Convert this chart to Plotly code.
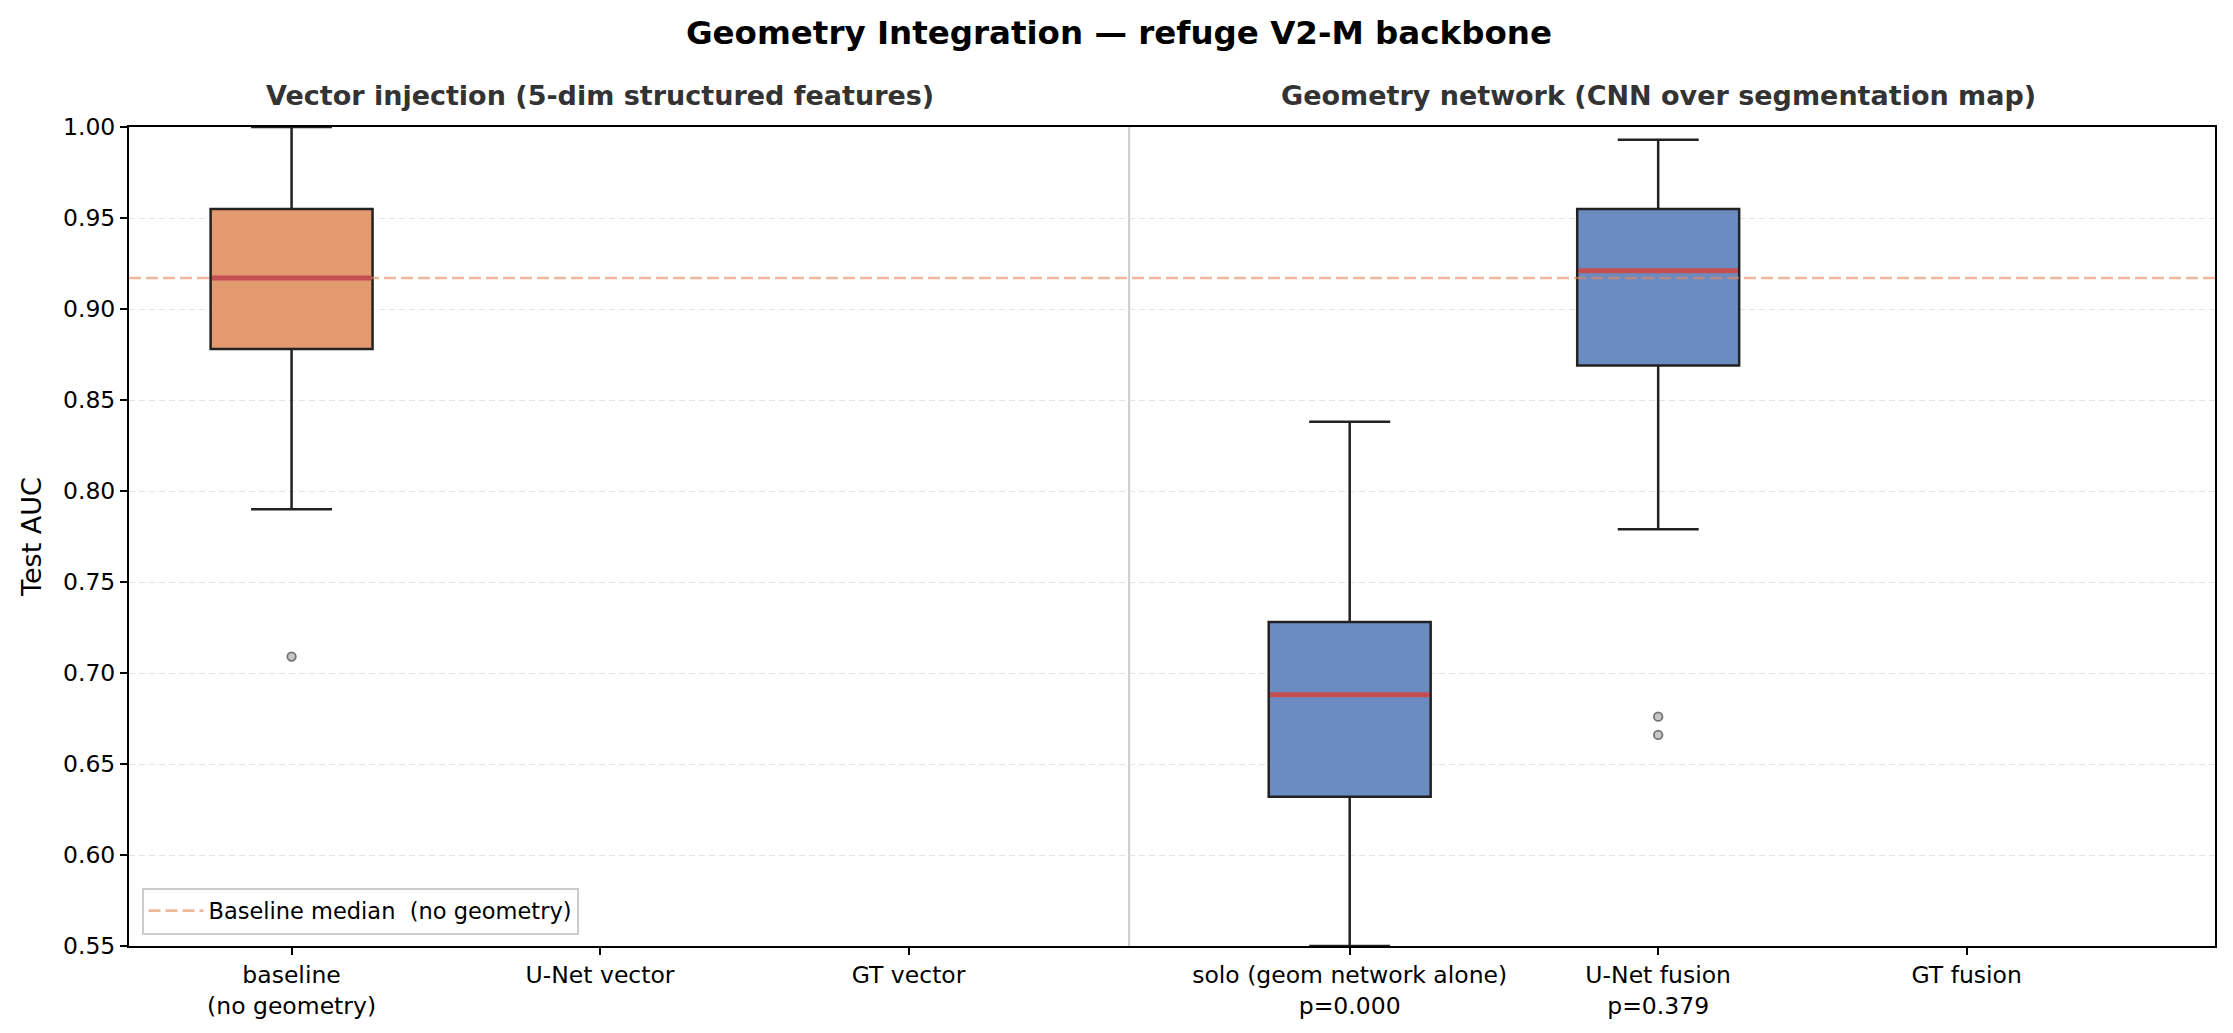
import plotly.graph_objects as go

# categories and x positions (two panels side by side)
labels = ["baseline<br>(no geometry)", "U-Net vector", "GT vector",
          "solo (geom network alone)<br>p=0.000", "U-Net fusion<br>p=0.379", "GT fusion"]
positions = [0, 1, 2, 3.43, 4.43, 5.43]

# box statistics (only three runs have data)
box_pos = [0, 3.43, 4.43]
box_q1 = [0.878, 0.632, 0.869]
box_median = [0.917, 0.688, 0.921]
box_q3 = [0.955, 0.728, 0.955]
box_low = [0.790, 0.550, 0.779]
box_high = [1.000, 0.838, 0.993]
box_colors = ["#E39A6F", "#6B8CC1", "#6B8CC1"]

# outliers
out_x = [0, 4.43, 4.43]
out_y = [0.709, 0.676, 0.666]

baseline_median = 0.917
x_range = [-0.527, 6.235]
separator_x = 2.715
box_w = 0.525

panel_titles = ["Vector injection (5-dim structured features)",
                "Geometry network (CNN over segmentation map)"]
panel_centers = [1, 4.43]

fig = go.Figure()

for i in range(len(box_pos)):
    fig.add_trace(go.Box(x=[box_pos[i]], q1=[box_q1[i]], median=[box_median[i]],
                         q3=[box_q3[i]], lowerfence=[box_low[i]], upperfence=[box_high[i]],
                         width=box_w, whiskerwidth=0.5, fillcolor=box_colors[i],
                         line=dict(color="#222222", width=2.5),
                         boxpoints=False, showlegend=False, hoverinfo="skip"))

# baseline median reference line (over the boxes, under the medians)
fig.add_trace(go.Scatter(x=x_range, y=[baseline_median, baseline_median], mode="lines",
                         line=dict(color="rgba(228,135,90,0.6)", width=2.6, dash="12px,5px"),
                         name="Baseline median  (no geometry)"))

# red median lines
for i in range(len(box_pos)):
    fig.add_trace(go.Scatter(x=[box_pos[i] - box_w / 2 + 0.004, box_pos[i] + box_w / 2 - 0.004],
                             y=[box_median[i], box_median[i]], mode="lines",
                             line=dict(color="#C44E52", width=5),
                             showlegend=False, hoverinfo="skip"))

fig.add_trace(go.Scatter(x=out_x, y=out_y, mode="markers",
                         marker=dict(symbol="circle", size=8.5, color="rgba(175,175,175,0.7)",
                                     line=dict(color="rgb(115,115,115)", width=1.8)),
                         showlegend=False, hoverinfo="skip"))

fig.add_shape(type="line", xref="x", yref="paper", x0=separator_x, x1=separator_x,
              y0=0, y1=1, line=dict(color="#CCCCCC", width=2), layer="below")

for t, c in zip(panel_titles, panel_centers):
    fig.add_annotation(text="<b>" + t + "</b>", x=c, xref="x", y=1.039, yref="paper",
                       yanchor="middle", showarrow=False,
                       font=dict(size=27, color="#333333"))

fig.update_layout(
    width=2233, height=1033,
    margin=dict(l=121, r=26, t=119, b=95),
    paper_bgcolor="white", plot_bgcolor="white",
    font=dict(family="DejaVu Sans", color="black", size=23),
    title=dict(text="<b>Geometry Integration — refuge V2-M backbone</b>",
               x=0.4975, xanchor="center", y=0.976, yanchor="middle",
               font=dict(size=32.5, color="black")),
    legend=dict(x=0.006, y=0.014, xanchor="left", yanchor="bottom",
                bgcolor="rgba(255,255,255,0.85)", bordercolor="#CCCCCC", borderwidth=2,
                font=dict(size=22.5), itemwidth=55),
    boxmode="overlay",
)

fig.update_xaxes(range=x_range, tickvals=positions, ticktext=labels,
                 showgrid=False, zeroline=False, showline=True, linecolor="black",
                 linewidth=2, mirror=True, ticks="outside", ticklen=7,
                 tickcolor="black", tickwidth=1.5, tickfont=dict(size=23.5))
fig.update_yaxes(range=[0.55, 1.0], dtick=0.05, tickformat=".2f",
                 showgrid=True, gridcolor="#E3E3E3", griddash="6px,4px", gridwidth=1.3,
                 zeroline=False, showline=True, linecolor="black", linewidth=2,
                 mirror=True, ticks="outside", ticklen=7, tickcolor="black",
                 tickwidth=1.5, tickfont=dict(size=23.5),
                 title=dict(text="Test AUC", font=dict(size=27), standoff=14))

fig.write_html("out.html")
